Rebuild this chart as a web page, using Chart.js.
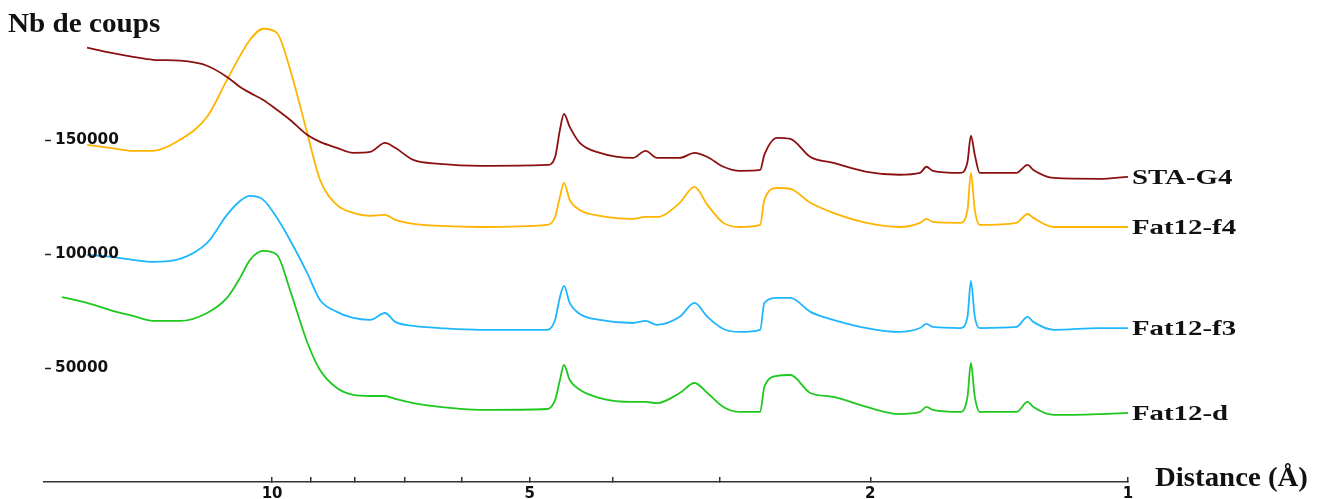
<!DOCTYPE html>
<html>
<head>
<meta charset="utf-8">
<script src="https://cdn.jsdelivr.net/npm/chart.js@4.4.1/dist/chart.umd.min.js"></script>
<style>
  html, body { margin: 0; padding: 0; background: #fff; overflow: hidden; }
  #wrap { position: relative; width: 1324px; height: 512px; }
</style>
</head>
<body>
<div id="wrap"><canvas id="c"></canvas></div>
<script>
// d-spacing (Å) of the sampled points, shared by all four patterns
const distances = [
  17.60, 16.45, 15.46, 14.54, 13.77, 12.81, 11.91, 11.29, 10.90, 10.61,
  10.24, 9.87, 9.53, 9.10, 8.79, 8.40, 8.04, 7.68, 7.38, 7.18,
  6.84, 6.37, 5.71, 4.77, 4.67, 4.61, 4.56, 4.49, 4.37, 4.14,
  3.79, 3.66, 3.55, 3.34, 3.21, 3.10, 2.97, 2.84, 2.69, 2.66,
  2.57, 2.48, 2.35, 2.21, 2.02, 1.85, 1.75, 1.72, 1.69, 1.57,
  1.54, 1.526, 1.51, 1.49, 1.35, 1.31, 1.29, 1.22, 1.08, 1.00
];

// counts (stacked patterns)
const staG4 = [
  null, 190400, 188200, 186400, 185100, 184700, 182500, 177600, 173200, 170600,
  167500, 163200, 158800, 152200, 149100, 146500, 144300, 144700, 148700, 146500,
  141200, 139500, 138600, 139000, 142500, 154400, 161400, 155700, 148700, 144300,
  142100, 145200, 142100, 142100, 144300, 142500, 138200, 136400, 136800, 143400,
  150900, 150400, 142500, 139900, 136000, 134700, 135500, 138200, 136400, 135500,
  140400, 151800, 143400, 135500, 135500, 139000, 136800, 133300, 132900, 133800
];
const fat12f4 = [
  null, 147800, 146500, 145200, 145200, 150000, 160100, 176300, 186800, 193900,
  198700, 196900, 181100, 153100, 132500, 121500, 118000, 116700, 117100, 114900,
  113200, 112300, 111800, 112700, 116200, 125000, 131100, 123700, 119300, 116700,
  115400, 116200, 116200, 122400, 129400, 121500, 113600, 111800, 112700, 123700,
  128900, 128500, 122400, 118000, 113600, 111800, 113600, 115400, 114000, 113600,
  119300, 135500, 119300, 112700, 113600, 117500, 115800, 111800, 111800, 111800
];
const fat12f3 = [
  null, 99600, 98700, 97400, 96500, 97800, 104800, 117100, 123200, 125400,
  123700, 115800, 106100, 91700, 79800, 74600, 71900, 71100, 74100, 70200,
  68400, 67500, 66700, 66700, 71100, 81100, 86000, 78500, 73700, 71100,
  69700, 70600, 68900, 72400, 78500, 72400, 67100, 65800, 66700, 78500,
  80700, 80700, 74600, 71100, 67500, 65800, 67500, 69300, 68000, 67500,
  72400, 88200, 72400, 67500, 68000, 72400, 70200, 66700, 67500, 67500
];
const fat12d = [
  81100, 78500, 75400, 72800, 70600, 70600, 74100, 80700, 89500, 97400,
  101300, 99600, 84200, 61400, 49100, 41200, 38200, 37700, 37700, 36400,
  34600, 32900, 31600, 32000, 36000, 44700, 51300, 44700, 40400, 36800,
  35100, 35100, 34600, 39000, 43400, 39000, 32900, 30700, 30700, 41700,
  46500, 46900, 39000, 37300, 32900, 29800, 30700, 32900, 31600, 30700,
  37300, 52200, 37300, 30700, 30700, 35100, 32900, 29400, 29800, 30300
];

const seriesNames = ['STA-G4', 'Fat12-f4', 'Fat12-f3', 'Fat12-d'];
const seriesColors = ['#8b1111', '#ffb400', '#1eb6ff', '#1ec81e'];
const yTickValues = [50000, 100000, 150000];
const xTickValues = [1, 2, 3, 4, 5, 6, 7, 8, 9, 10];
const xLabelledTicks = [1, 2, 5, 10];
const yTitle = 'Nb de coups';
const xTitle = 'Distance (Å)';

function toPoints(values) {
  const pts = [];
  values.forEach((v, i) => { if (v !== null) pts.push({ x: distances[i], y: v }); });
  return pts;
}

const datasets = [staG4, fat12f4, fat12f3, fat12d].map((vals, i) => ({
  label: seriesNames[i],
  data: toPoints(vals),
  borderColor: seriesColors[i],
  borderWidth: 1.8,
  pointRadius: 0,
  fill: false,
  cubicInterpolationMode: 'monotone'
}));

// draw text stretched horizontally
function drawWide(ctx, text, x, y, font, sx) {
  ctx.save();
  ctx.font = font;
  ctx.translate(x, y);
  ctx.scale(sx, 1);
  ctx.fillText(text, 0, 0);
  ctx.restore();
}

const textPlugin = {
  id: 'textLabels',
  afterDraw(chart) {
    const { ctx, chartArea, scales } = chart;
    ctx.save();
    ctx.fillStyle = '#111';
    ctx.textAlign = 'left';

    // count axis: short dash plus value, drawn inside the plot on the left
    ctx.strokeStyle = '#222';
    ctx.lineWidth = 1.5;
    ctx.textBaseline = 'middle';
    scales.y.ticks.forEach(t => {
      const py = Math.round(scales.y.getPixelForValue(t.value)) + 0.5;
      ctx.beginPath();
      ctx.moveTo(chartArea.left + 1, py);
      ctx.lineTo(chartArea.left + 7, py);
      ctx.stroke();
      drawWide(ctx, String(t.value), chartArea.left + 11, py, 'bold 15px "DejaVu Sans"', 1.02);
    });

    // series names at the right end of each pattern
    ctx.textBaseline = 'alphabetic';
    chart.data.datasets.forEach(ds => {
      const last = ds.data[ds.data.length - 1];
      const py = scales.y.getPixelForValue(last.y) + 7;
      drawWide(ctx, ds.label, chartArea.right + 4, py, 'bold 22px "Liberation Serif"', 1.31);
    });

    drawWide(ctx, yTitle, 8, 32, 'bold 27px "Liberation Serif"', 1.08);
    drawWide(ctx, xTitle, chartArea.right + 27, 486, 'bold 28px "Liberation Serif"', 1.03);
    ctx.restore();
  }
};

new Chart(document.getElementById('c'), {
  type: 'line',
  data: { datasets },
  plugins: [textPlugin],
  options: {
    responsive: true,
    maintainAspectRatio: false,
    animation: false,
    layout: { padding: { left: 44, right: 196, top: 3, bottom: 0 } },
    plugins: { legend: { display: false }, tooltip: { enabled: false } },
    scales: {
      x: {
        type: 'logarithmic',
        reverse: true,
        min: 1,
        max: 18.47,
        afterBuildTicks: axis => { axis.ticks = xTickValues.map(v => ({ value: v })); },
        grid: { display: true, drawOnChartArea: false, drawTicks: true, tickLength: -5, color: '#333', lineWidth: 1.5 },
        border: { display: true, color: '#333', width: 1.5 },
        ticks: {
          autoSkip: false,
          maxRotation: 0,
          padding: 8.5,
          color: '#111',
          font: { family: '"DejaVu Sans"', size: 15, weight: 'bold' },
          callback: v => (xLabelledTicks.includes(v) ? String(v) : '')
        }
      },
      y: {
        type: 'linear',
        display: false,
        min: 0,
        max: 210000,
        afterBuildTicks: axis => { axis.ticks = yTickValues.map(v => ({ value: v })); }
      }
    }
  }
});
</script>
</body>
</html>
